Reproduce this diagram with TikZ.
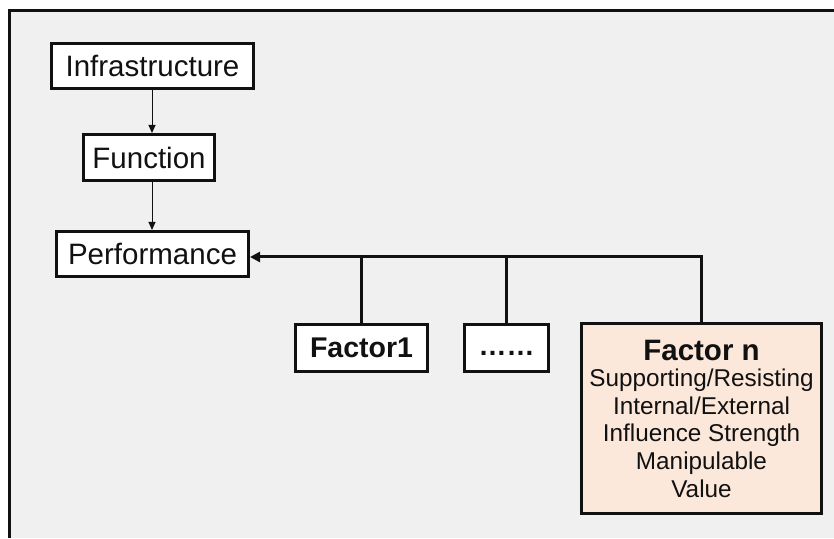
\documentclass[tikz,border=0pt]{standalone}
\usepackage{fontspec}
\setmainfont{Liberation Sans}
\usetikzlibrary{arrows.meta}
\definecolor{panel}{HTML}{F0F0F0}
\definecolor{peach}{HTML}{FCE8DA}
\definecolor{ink}{HTML}{111111}
\tikzset{
  box/.style={draw=ink, line width=3pt, fill=white, inner sep=0pt, text=ink,
    font=\fontsize{29.5}{31}\selectfont},
  flow/.style={draw=ink, line width=1pt, -{Triangle[length=8pt,width=7pt]}},
  link/.style={draw=ink, line width=3pt},
}
\begin{document}
\begin{tikzpicture}[x=1pt,y=1pt]
  \useasboundingbox (0,0) rectangle (834,538);
  \fill[white] (0,0) rectangle (834,538);
  % panel with a frame on its top and left sides
  \fill[panel] (9,0) rectangle (834,527);
  \draw[ink, line width=3pt] (9,0) -- (9,527) -- (834,527);

  % chain on the left
  \node[box, minimum width=202pt, minimum height=45pt] (infra) at (152.5,472) {Infrastructure};
  \node[box, minimum width=131pt, minimum height=46pt] (func) at (149,380.5) {Function};
  \node[box, minimum width=192pt, minimum height=45pt] (perf) at (152.5,284) {Performance};

  \draw[flow] (infra.south -| 152,0) -- (func.north -| 152,0);
  \draw[flow] (func.south -| 152,0) -- (perf.north -| 152,0);

  % factors
  \node[box, minimum width=132pt, minimum height=47pt, font=\fontsize{28.5}{30}\selectfont\bfseries] (f1) at (361.5,190) {Factor1};
  \node[box, minimum width=84pt, minimum height=47pt, font=\fontsize{28}{30}\selectfont\bfseries] (fdots) at (506.5,190) {\raisebox{-8pt}[0pt][0pt]{……}};
  \node[box, fill=peach, minimum width=240pt, minimum height=190pt, align=center,
        font=\fontsize{24.3}{27.6}\selectfont] (fn) at (701.5,119.5)
    {{\fontsize{29.5}{31}\selectfont\bfseries Factor n}\\[-1pt]
     Supporting/Resisting\\ Internal/External\\ Influence Strength\\ Manipulable\\ Value};

  % collecting line into Performance
  \coordinate (bus) at ([yshift=-3pt]perf.east);
  \draw[link, -{Triangle[length=10pt,width=10pt]}] (fn.north) |- (bus);
  \draw[link] (f1.north) -- (f1.north |- bus);
  \draw[link] (fdots.north) -- (fdots.north |- bus);
\end{tikzpicture}
\end{document}
